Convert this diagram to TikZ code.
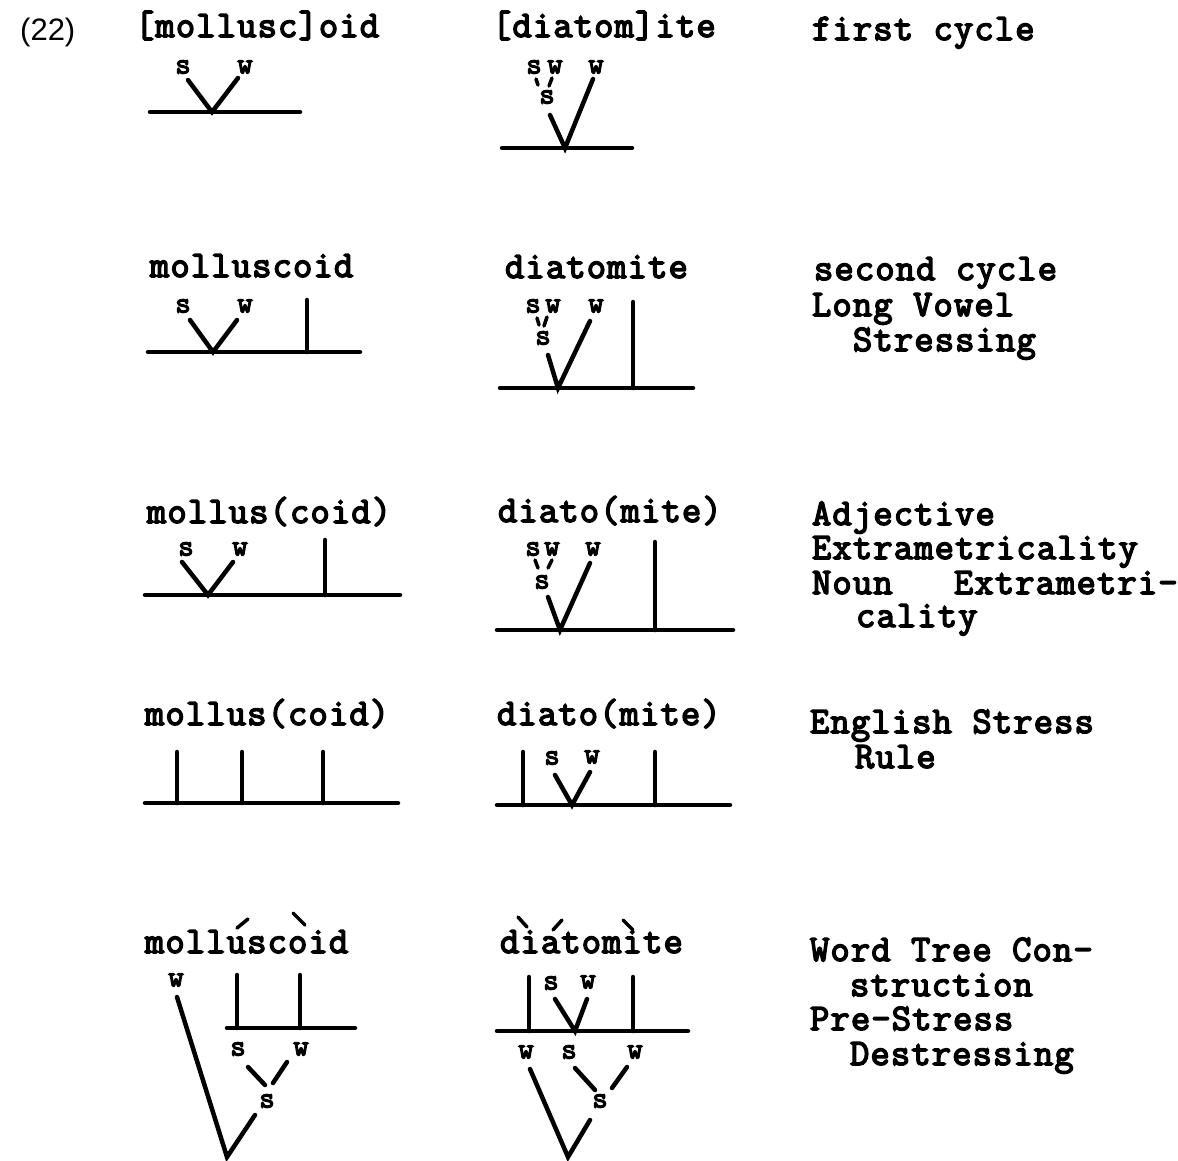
\documentclass[tikz,border=0pt]{standalone}
\usepackage{fontspec}
\newfontfamily\twfam{Latin Modern Mono}[FakeBold=4,LetterSpace=3]
\newfontfamily\twlab{Latin Modern Mono}[FakeBold=4]
\newfontfamily\numfam{Liberation Sans}
\newcommand\tw{\twfam\fontsize{37.5}{34.5}\selectfont}
\newcommand\twsm{\twlab\fontsize{30}{30}\selectfont}
\begin{document}
\begin{tikzpicture}[x=1pt,y=-1pt,
  txt/.style={font=\tw, anchor=base west, inner sep=0pt, outer sep=0pt},
  lab/.style={font=\twsm, inner sep=0pt, outer sep=0pt},
  br/.style={line width=4.5pt, line cap=round},
  tk/.style={line width=3.5pt, line cap=round}]
\fill[white] (0,0) rectangle (1178,1160);
\path[use as bounding box] (0,0) rectangle (1178,1160);

% ---------- Row 1 ----------
\node[font=\numfam\fontsize{31}{31}\selectfont, anchor=base west, inner sep=0pt] (num) at (20,40) {(22)};
\node[txt] (t1a) at (135,37) {[mollusc]oid};
\node[lab] (s1a) at (183,67) {s};
\node[lab] (w1a) at (245,67) {w};
\coordinate (s1aa) at (188,80); \coordinate (w1aa) at (238,78);
\coordinate (v1a) at (212,112);
\coordinate (h1aL) at (150,112); \coordinate (h1aR) at (300,112);
\draw[br] (s1aa) -- (v1a) -- (w1aa);
\draw[br] (h1aL) -- (h1aR);

\node[txt] (t1b) at (492,37) {[diatom]ite};
\node[lab] (s1b) at (534,67) {s};
\node[lab] (w1b) at (555,67) {w};
\node[lab] (S1b) at (547,97) {s};
\node[lab] (ww1b) at (596,67) {w};
\coordinate (k1a) at (536,79); \coordinate (k1b) at (538,85);
\coordinate (k1c) at (552,78); \coordinate (k1d) at (549,86);
\draw[tk] (k1a) -- (k1b); \draw[tk] (k1c) -- (k1d);
\coordinate (l1b) at (550,115); \coordinate (r1b) at (593,79);
\coordinate (v1b) at (565,148);
\coordinate (h1bL) at (502,148); \coordinate (h1bR) at (632,148);
\draw[br] (l1b) -- (v1b) -- (r1b);
\draw[br] (h1bL) -- (h1bR);

\node[txt] (r1) at (812,40) {first cycle};

% ---------- Row 2 ----------
\node[txt] (t2a) at (150,277) {molluscoid};
\node[lab] (s2a) at (183,306) {s};
\node[lab] (w2a) at (245,306) {w};
\coordinate (l2a) at (190,320); \coordinate (r2a) at (237,320);
\coordinate (v2a) at (213,352);
\coordinate (p2aT) at (307,300); \coordinate (p2aB) at (307,352);
\coordinate (h2aL) at (148,352); \coordinate (h2aR) at (360,352);
\draw[br] (l2a) -- (v2a) -- (r2a);
\draw[br] (p2aT) -- (p2aB);
\draw[br] (h2aL) -- (h2aR);

\node[txt] (t2b) at (505,278) {diatomite};
\node[lab] (s2b) at (533,306) {s};
\node[lab] (w2b) at (553,306) {w};
\node[lab] (S2b) at (543,338) {s};
\node[lab] (ww2b) at (596,306) {w};
\coordinate (k2a) at (537,318); \coordinate (k2b) at (539,325);
\coordinate (k2c) at (547,317); \coordinate (k2d) at (544,326);
\draw[tk] (k2a) -- (k2b); \draw[tk] (k2c) -- (k2d);
\coordinate (l2b) at (548,355); \coordinate (r2b) at (590,321);
\coordinate (v2b) at (558,388);
\coordinate (p2bT) at (633,302); \coordinate (p2bB) at (633,388);
\coordinate (h2bL) at (500,388); \coordinate (h2bR) at (693,388);
\draw[br] (l2b) -- (v2b) -- (r2b);
\draw[br] (p2bT) -- (p2bB);
\draw[br] (h2bL) -- (h2bR);

\node[txt] (r2a) at (814,280) {second cycle};
\node[txt] (r2b) at (812,316) {Long Vowel};
\node[txt] (r2c) at (853,351) {Stressing};

% ---------- Row 3 ----------
\node[txt] (t3a) at (147,523) {mollus(coid)};
\node[lab] (s3a) at (186,549) {s};
\node[lab] (w3a) at (240,549) {w};
\coordinate (l3a) at (182,562); \coordinate (r3a) at (233,562);
\coordinate (v3a) at (208,595);
\coordinate (p3aT) at (325,540); \coordinate (p3aB) at (325,595);
\coordinate (h3aL) at (145,595); \coordinate (h3aR) at (400,595);
\draw[br] (l3a) -- (v3a) -- (r3a);
\draw[br] (p3aT) -- (p3aB);
\draw[br] (h3aL) -- (h3aR);

\node[txt] (t3b) at (498,522) {diato(mite)};
\node[lab] (s3b) at (533,549) {s};
\node[lab] (w3b) at (552,549) {w};
\node[lab] (S3b) at (542,582) {s};
\node[lab] (ww3b) at (593,549) {w};
\coordinate (k3a) at (535,560); \coordinate (k3b) at (538,568);
\coordinate (k3c) at (552,560); \coordinate (k3d) at (548,568);
\draw[tk] (k3a) -- (k3b); \draw[tk] (k3c) -- (k3d);
\coordinate (l3b) at (548,597); \coordinate (r3b) at (590,563);
\coordinate (v3b) at (560,630);
\coordinate (p3bT) at (655,542); \coordinate (p3bB) at (655,630);
\coordinate (h3bL) at (497,630); \coordinate (h3bR) at (733,630);
\draw[br] (l3b) -- (v3b) -- (r3b);
\draw[br] (p3bT) -- (p3bB);
\draw[br] (h3bL) -- (h3bR);

\node[txt] (r3a) at (812,525) {Adjective};
\node[txt] (r3b) at (812,559) {Extrametricality};
\node[txt] (r3c) at (812,594) {Noun\ \ \ Extrametri-};
\node[txt] (r3d) at (856,627) {cality};

% ---------- Row 4 ----------
\node[txt] (t4a) at (145,725) {mollus(coid)};
\coordinate (p4aT) at (177,752); \coordinate (p4aB) at (177,803);
\coordinate (p4bT) at (242,752); \coordinate (p4bB) at (242,803);
\coordinate (p4cT) at (323,752); \coordinate (p4cB) at (323,803);
\coordinate (h4aL) at (145,803); \coordinate (h4aR) at (398,803);
\draw[br] (p4aT) -- (p4aB);
\draw[br] (p4bT) -- (p4bB);
\draw[br] (p4cT) -- (p4cB);
\draw[br] (h4aL) -- (h4aR);

\node[txt] (t4b) at (497,725) {diato(mite)};
\node[lab] (s4b) at (552,758) {s};
\node[lab] (w4b) at (592,757) {w};
\coordinate (q4aT) at (523,752); \coordinate (q4aB) at (523,805);
\coordinate (l4b) at (555,775); \coordinate (r4b) at (590,772);
\coordinate (v4b) at (572,805);
\coordinate (q4bT) at (655,752); \coordinate (q4bB) at (655,805);
\coordinate (h4bL) at (497,805); \coordinate (h4bR) at (730,805);
\draw[br] (q4aT) -- (q4aB);
\draw[br] (l4b) -- (v4b) -- (r4b);
\draw[br] (q4bT) -- (q4bB);
\draw[br] (h4bL) -- (h4bR);

\node[txt] (r4a) at (810,733) {English Stress};
\node[txt] (r4b) at (855,768) {Rule};

% ---------- Row 5 ----------
\node[txt] (t5a) at (145,953) {molluscoid};
\coordinate (ac1a) at (237,928); \coordinate (ac1b) at (248,919);
\coordinate (ac2a) at (293,913); \coordinate (ac2b) at (305,925);
\draw[tk] (ac1a) -- (ac1b); \draw[tk] (ac2a) -- (ac2b);
\node[lab] (W5a) at (176,980) {w};
\coordinate (p5aT) at (237,975); \coordinate (p5aB) at (237,1028);
\coordinate (p5bT) at (300,975); \coordinate (p5bB) at (300,1028);
\coordinate (h5aL) at (227,1028); \coordinate (h5aR) at (355,1028);
\draw[br] (p5aT) -- (p5aB);
\draw[br] (p5bT) -- (p5bB);
\draw[br] (h5aL) -- (h5aR);
\node[lab] (s5a) at (238,1049) {s};
\node[lab] (w5a) at (301,1049) {w};
\coordinate (m5a) at (248,1067); \coordinate (m5b) at (265,1085);
\coordinate (m5c) at (287,1062); \coordinate (m5d) at (273,1083);
\draw[br] (m5a) -- (m5b); \draw[br] (m5c) -- (m5d);
\node[lab] (S5a) at (267,1101) {s};
\coordinate (l5a) at (177,997); \coordinate (r5a) at (255,1115);
\coordinate (v5a) at (227,1157);
\draw[br] (l5a) -- (v5a) -- (r5a);

\node[txt] (t5b) at (500,953) {diatomite};
\coordinate (ad1a) at (518,917); \coordinate (ad1b) at (527,927);
\coordinate (ad2a) at (553,930); \coordinate (ad2b) at (562,920);
\coordinate (ad3a) at (623,920); \coordinate (ad3b) at (633,930);
\draw[tk] (ad1a) -- (ad1b); \draw[tk] (ad2a) -- (ad2b); \draw[tk] (ad3a) -- (ad3b);
\coordinate (q5aT) at (529,977); \coordinate (q5aB) at (529,1031);
\coordinate (q5bT) at (633,977); \coordinate (q5bB) at (633,1031);
\node[lab] (s5b) at (551,983) {s};
\node[lab] (w5b) at (588,982) {w};
\coordinate (l5b) at (555,999); \coordinate (r5b) at (587,999);
\coordinate (v5b) at (575,1031);
\coordinate (h5bL) at (497,1031); \coordinate (h5bR) at (688,1031);
\draw[br] (q5aT) -- (q5aB);
\draw[br] (q5bT) -- (q5bB);
\draw[br] (l5b) -- (v5b) -- (r5b);
\draw[br] (h5bL) -- (h5bR);
\node[lab] (W5b1) at (526,1052) {w};
\node[lab] (S5b1) at (569,1052) {s};
\node[lab] (W5b2) at (635,1052) {w};
\coordinate (n5a) at (575,1068); \coordinate (n5b) at (595,1090);
\coordinate (n5c) at (627,1067); \coordinate (n5d) at (612,1088);
\draw[br] (n5a) -- (n5b); \draw[br] (n5c) -- (n5d);
\node[lab] (S5b2) at (600,1101) {s};
\coordinate (l5c) at (530,1069); \coordinate (r5c) at (590,1120);
\coordinate (v5c) at (568,1157);
\draw[br] (l5c) -- (v5c) -- (r5c);

\node[txt] (r5a) at (810,961) {Word Tree Con-};
\node[txt] (r5b) at (850,996) {struction};
\node[txt] (r5c) at (810,1030) {Pre-Stress};
\node[txt] (r5d) at (850,1065) {Destressing};
\end{tikzpicture}
\end{document}
